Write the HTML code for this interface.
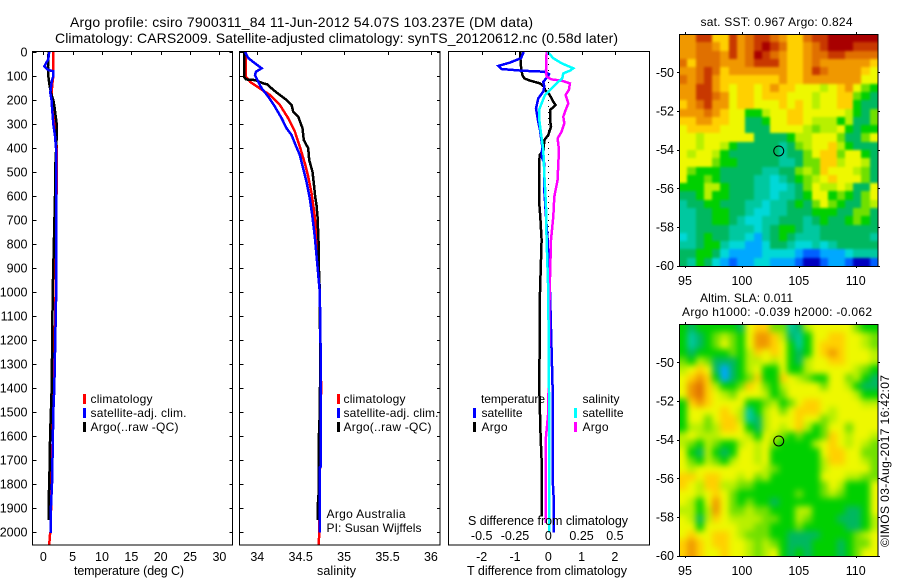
<!DOCTYPE html>
<html lang="en">
<head>
<meta charset="utf-8">
<title>Argo profile chart</title>
<style>
html,body{margin:0;padding:0;background:#fff;width:900px;height:580px;overflow:hidden}
svg{display:block}
text{font-family:"Liberation Sans",sans-serif;font-size:12.5px;fill:#000}
.ttl{font-size:14px}
.sm{font-size:12px}
</style>
</head>
<body>
<svg id="chart" xmlns="http://www.w3.org/2000/svg" width="900" height="580" viewBox="0 0 900 580">
  <defs>
    <filter id="soft-sst" filterUnits="userSpaceOnUse" x="650" y="0" width="250" height="300" color-interpolation-filters="sRGB"><feGaussianBlur stdDeviation="1.3"/></filter>
    <filter id="soft-sla" filterUnits="userSpaceOnUse" x="650" y="290" width="250" height="290" color-interpolation-filters="sRGB"><feGaussianBlur stdDeviation="3.2"/></filter>
    <clipPath id="clip-sst"><rect x="679" y="34" width="199" height="232"/></clipPath>
    <clipPath id="clip-sla"><rect x="679" y="324" width="199" height="232"/></clipPath>
  </defs>
  <rect x="0" y="0" width="900" height="580" fill="#fff"/>
  <text class="ttl" x="70" y="27" textLength="463">Argo profile: csiro 7900311_84 11-Jun-2012 54.07S 103.237E (DM data)</text>
  <text class="ttl" x="55" y="43" textLength="563">Climatology: CARS2009. Satellite-adjusted climatology: synTS_20120612.nc (0.58d later)</text>

  <g id="map-sst"></g>
  <g id="map-sla"></g>
  <g id="panel-temp"></g>
  <g id="panel-sal"></g>
  <g id="panel-diff"></g>

  <text x="74" y="575" textLength="110">temperature (deg C)</text>
  <text x="317" y="575" textLength="39">salinity</text>
  <text x="467" y="575" textLength="160">T difference from climatology</text>
  <text x="468" y="525" textLength="160">S difference from climatology</text>

  <g>
    <rect x="83" y="394" width="3" height="10" fill="#ff0000"/>
    <text class="sm" x="90.5" y="403" textLength="62">climatology</text>
    <rect x="83" y="408" width="3" height="10" fill="#0000ff"/>
    <text class="sm" x="90.5" y="417" textLength="96">satellite-adj. clim.</text>
    <rect x="83" y="422" width="3" height="10" fill="#000"/>
    <text class="sm" x="90.5" y="431" textLength="88">Argo(..raw -QC)</text>
  </g>
  <g>
    <rect x="337" y="394" width="3" height="10" fill="#ff0000"/>
    <text class="sm" x="343.5" y="403" textLength="62">climatology</text>
    <rect x="337" y="408" width="3" height="10" fill="#0000ff"/>
    <text class="sm" x="343.5" y="417" textLength="95">satellite-adj. clim.</text>
    <rect x="337" y="422" width="3" height="10" fill="#000"/>
    <text class="sm" x="343.5" y="431" textLength="88">Argo(..raw -QC)</text>
  </g>
  <g>
    <text class="sm" x="481" y="403" textLength="64">temperature</text>
    <rect x="473" y="408" width="3" height="10" fill="#0000ff"/>
    <text class="sm" x="481.5" y="417" textLength="41">satellite</text>
    <rect x="473" y="422" width="3" height="10" fill="#000"/>
    <text class="sm" x="481.5" y="431" textLength="26">Argo</text>
    <text class="sm" x="582.5" y="403" textLength="37">salinity</text>
    <rect x="574" y="408" width="3" height="10" fill="#00ffff"/>
    <text class="sm" x="582.5" y="417" textLength="41">satellite</text>
    <rect x="574" y="422" width="3" height="10" fill="#ff00ff"/>
    <text class="sm" x="582.5" y="431" textLength="26">Argo</text>
  </g>
  <text class="sm" x="326.5" y="518" textLength="79">Argo Australia</text>
  <text class="sm" x="326.5" y="532" textLength="95">PI: Susan Wijffels</text>

  <text class="sm" x="700.5" y="26" textLength="152">sat. SST: 0.967 Argo: 0.824</text>
  <text class="sm" x="700" y="302" textLength="93">Altim. SLA: 0.011</text>
  <text class="sm" x="682" y="316" textLength="190">Argo h1000: -0.039 h2000: -0.062</text>
  <text class="sm" transform="translate(889,547) rotate(-90)" x="0" y="0" textLength="172">©IMOS 03-Aug-2017 16:42:07</text>
</svg>
<script>
// ---- shared axis data ----
const depthTicks = [0,100,200,300,400,500,600,700,800,900,1000,1100,1200,1300,1400,1500,1600,1700,1800,1900,2000];
const tempTicks = [0,5,10,15,20,25,30];
const salTicks = [34,34.5,35,35.5,36];
const salTickLabels = ["34","34.5","35","35.5","36"];
const tDiffTicks = [-2,-1,0,1,2];
const sDiffTicks = [-0.5,-0.25,0,0.25,0.5];
const sDiffTickLabels = ["-0.5","-0.25","0","0.25","0.5"];
const lonTicks = [95,100,105,110];
const latTicks = [-50,-52,-54,-56,-58,-60];
const profileLon = [103.237];
const profileLat = [-54.07];

// ---- temperature profiles (deg C) ----
const tempClimDepth = [0,100,120,170,300,400,500,600,1000,1400,1800,2000,2005,2055];
const tempClimValue = [1.7,1.7,1.6,1.4,2.0,2.28,2.28,2.25,2.1,1.8,1.4,1.25,1.15,1.0];
const tempArgoDepth = [0,60,100,130,170,200,230,300,350,400,500,600,1000,1400,1500,1600,1800,1850,1950];
const tempArgoValue = [0.9,0.8,0.85,1.0,1.3,1.7,1.9,2.28,2.28,2.2,2.0,2.0,1.6,1.43,1.3,1.15,1.02,0.92,0.92];
const tempSatDepth = [0,30,60,75,80,100,120,150,170,200,250,300,350,400,500,600,1000,1400,1500,1650,1800,1900,2005];
const tempSatValue = [1.0,0.85,0.17,0.85,1.7,1.7,1.45,1.3,1.2,1.4,1.55,1.7,2.0,2.16,2.16,2.16,2.2,1.87,1.7,1.6,1.48,1.3,1.3];

// ---- salinity profiles ----
const salClimDepth = [0,103,124,152,179,221,276,332,394,464,519,589,686,783,1000,1400,1800,2000,2055];
const salClimValue = [33.866,33.87,33.916,34.03,34.146,34.26,34.356,34.433,34.49,34.548,34.586,34.625,34.663,34.682,34.72,34.735,34.72,34.712,34.71];
const salArgoDepth = [0,103,114,117,131,135,158,179,200,221,249,269,318,367,401,450,499,547,603,638,686,783,900,1000,1300,1500,1600,1850,1900,1950];
const salArgoValue = [33.847,33.847,33.87,33.973,34.069,34.115,34.184,34.26,34.337,34.395,34.414,34.471,34.521,34.536,34.586,34.598,34.636,34.651,34.667,34.682,34.693,34.705,34.71,34.72,34.725,34.72,34.71,34.705,34.693,34.693];
const salSatDepth = [0,26,47,68,82,96,124,151,186,228,276,318,346,381,429,485,540,610,679,769,1000,1300,1728,1730,2003];
const salSatValue = [33.858,33.897,33.973,34.05,33.985,33.973,34.011,34.05,34.126,34.203,34.28,34.337,34.395,34.433,34.49,34.529,34.567,34.605,34.632,34.663,34.72,34.732,34.732,34.72,34.72];

// ---- differences from climatology ----
const diffTArgoDepth = [0,61,96,110,119,131,144,158,175,193,207,221,242,283,311,346,367,408,429,506,617,686,783,1000,1400,1600,1700,1936];
const diffTArgoValue = [-0.85,-0.82,-0.78,-0.72,-0.55,-0.25,-0.13,-0.10,0.02,0.10,0.15,0.22,0.05,0.05,0.08,0,-0.12,-0.14,-0.26,-0.28,-0.28,-0.24,-0.20,-0.25,-0.27,-0.23,-0.2,-0.2];
const diffTSatDepth = [0,26,44,58,71,78,82,92,103,124,144,165,193,235,276,325,394,436,464,575,686,783,1000,1400,1776,1853,2003];
const diffTSatValue = [-0.74,-0.82,-1.15,-1.5,-1.4,-0.8,-0.12,0.02,-0.02,-0.15,-0.12,-0.15,-0.30,-0.37,-0.32,-0.25,-0.18,-0.2,-0.12,-0.12,-0.07,-0.02,0.05,0.13,0.13,0.16,0.17];
const diffSArgoDepth = [0,75,103,114,119,131,158,179,214,242,269,297,332,360,408,464,533,603,686,783,1000,1500,1603,1963];
const diffSArgoValue = [-0.0125,-0.0175,-0.0125,0.025,0.1,0.1625,0.155,0.13,0.15,0.13,0.1125,0.12,0.1,0.07,0.08,0.075,0.07,0.045,0.0375,0.02,0.01,0,-0.0175,-0.02];
const diffSSatDepth = [0,26,47,68,78,89,110,124,151,179,214,242,283,339,408,506,644,783,1000,1400,2003];
const diffSSatValue = [-0.005,0.0375,0.1,0.1875,0.1625,0.1125,0.105,0.075,0.025,-0.025,-0.05,-0.07,-0.0675,-0.055,-0.0375,-0.03,-0.0175,-0.0125,0,0.005,0.0075];

// ---- map colour levels (0 = coldest/lowest, 14 = warmest/highest) ----
const mapPalette = ["#0000c0","#0060ff","#00a8ff","#00d8d8","#00c8a0","#00b860","#00d000","#70e000","#b8f000","#eef800","#ffd000","#f09800","#e07000","#c83800","#a80000"];
const sstLevels = [
[11,11,13,13,10,10,13,11,12,13,13,12,11,10,10,12,13,13,14,14,14,14,14,14],
[11,11,12,12,11,10,13,11,12,13,14,13,12,10,10,11,12,13,14,14,14,13,13,13],
[11,11,12,12,12,11,13,11,12,14,13,12,11,10,10,11,12,12,13,13,12,12,12,12],
[12,10,12,12,12,11,11,11,12,13,13,13,11,10,10,11,12,11,11,11,11,11,11,10],
[11,11,12,13,12,10,11,11,11,11,11,11,11,10,10,11,13,12,11,11,11,11,10,9],
[12,11,12,13,11,10,10,10,10,10,10,10,11,10,10,11,11,11,11,11,11,11,9,9],
[11,11,13,13,11,10,9,10,10,9,10,11,10,10,9,9,9,8,9,10,11,9,7,6],
[11,11,13,13,12,11,9,10,10,9,10,10,10,9,9,9,8,9,9,10,10,7,6,5],
[10,11,12,13,11,11,9,10,10,9,9,9,10,9,10,9,8,9,9,10,10,6,5,5],
[11,11,11,12,11,10,9,9,6,6,8,9,9,10,10,9,9,9,9,9,8,6,5,7],
[10,10,11,11,10,10,9,9,5,5,6,9,9,10,10,9,8,8,8,6,8,5,5,7],
[9,10,10,10,10,9,9,9,5,5,5,9,9,9,9,8,7,8,8,9,6,5,6,6],
[9,9,8,9,9,9,9,9,9,5,5,5,5,6,8,8,9,9,9,7,5,5,7,9],
[9,9,8,9,9,8,6,5,5,5,5,5,4,5,7,8,9,9,10,8,6,5,5,5],
[9,8,9,9,8,6,5,5,5,5,5,5,4,5,5,7,9,10,10,7,9,9,6,5],
[9,9,9,9,7,6,6,5,5,5,5,5,4,4,5,7,7,10,10,8,9,9,8,5],
[9,7,6,6,6,5,5,5,5,5,4,4,5,5,7,8,7,10,9,9,9,8,7,5],
[9,6,6,7,6,5,5,5,5,4,4,3,4,5,6,7,8,9,10,9,9,9,7,5],
[6,6,6,8,8,6,5,5,5,4,4,3,3,4,5,7,9,8,8,9,8,5,5,9],
[5,5,6,8,6,6,5,5,5,4,4,3,4,4,5,6,9,9,6,7,6,5,7,9],
[4,5,5,6,6,5,5,5,4,4,3,4,4,5,6,5,7,9,7,6,5,5,7,8],
[4,4,5,5,6,6,5,5,4,3,3,4,4,5,5,5,6,6,6,5,5,7,7,5],
[4,4,5,5,6,6,5,4,3,3,4,4,5,5,5,4,5,6,5,5,6,7,6,5],
[4,4,5,5,5,5,4,4,4,3,4,5,6,6,5,4,4,5,5,5,5,5,5,5],
[3,4,5,6,5,5,4,4,3,2,4,5,6,5,4,4,4,5,5,5,5,5,5,4],
[4,4,5,6,6,4,3,3,2,2,3,5,5,4,3,3,4,3,4,5,5,5,5,5],
[5,5,6,6,5,3,2,2,2,2,3,3,3,3,2,1,1,2,2,2,3,4,4,4],
[5,4,6,5,3,2,1,2,2,3,3,2,2,2,1,0,0,1,2,2,1,0,0,1]
];
const slaLevels = [
[6,5,6,6,6,6,6,5,9,10,10,7,7,4,5,8,9,9,9,9,9,7,6,6],
[6,4,5,6,7,8,7,6,9,11,11,10,8,5,4,6,9,9,10,10,9,9,8,7],
[6,4,5,6,7,9,7,6,9,11,11,10,9,6,4,6,9,10,10,10,9,9,8,7],
[6,5,6,6,6,6,7,6,8,10,9,10,9,6,5,6,9,10,11,10,9,9,9,8],
[7,6,8,7,5,5,5,6,8,8,9,8,9,6,5,8,9,9,10,10,9,9,9,8],
[8,9,10,9,5,2,5,6,8,9,6,6,9,6,6,8,9,9,9,9,9,8,7,6],
[9,10,11,10,6,2,5,6,7,10,6,6,10,9,8,7,6,6,9,9,7,8,6,5],
[9,11,12,10,8,6,6,7,10,9,7,6,8,9,9,9,9,7,9,9,8,6,5,5],
[9,11,12,10,9,8,7,9,9,9,8,6,7,9,9,9,9,9,9,9,9,8,6,6],
[6,10,11,10,9,9,9,9,6,6,7,8,6,7,9,10,10,9,9,9,9,9,8,8],
[6,9,9,9,9,10,9,8,4,6,8,9,7,9,10,10,10,9,8,9,9,9,9,9],
[6,9,9,7,9,10,10,8,4,5,8,9,9,9,10,9,9,7,8,9,9,9,9,9],
[6,8,8,7,8,10,10,9,6,5,8,9,8,9,10,8,6,7,9,9,7,9,9,9],
[8,9,8,8,8,9,9,9,8,6,9,8,7,6,7,6,6,7,10,9,8,9,9,8],
[8,7,6,8,7,6,6,8,9,8,9,7,6,6,6,6,8,9,10,9,8,9,8,7],
[9,6,5,8,6,5,6,9,9,8,9,6,6,6,6,6,6,9,10,10,9,9,7,7],
[9,7,6,8,7,6,8,9,9,8,9,6,6,6,6,6,6,8,10,10,9,9,8,7],
[9,8,9,9,9,9,9,9,9,9,8,7,6,6,6,6,6,8,9,9,9,9,9,7],
[10,10,9,10,10,9,9,8,9,7,8,6,6,6,6,6,6,9,9,9,8,8,7,7],
[10,9,8,10,10,8,8,7,7,6,6,6,6,6,6,6,6,7,9,8,6,6,6,9],
[9,9,8,9,10,9,7,6,6,6,6,6,6,6,7,6,6,7,8,7,6,6,6,9],
[9,8,6,9,11,9,7,6,7,6,6,5,6,6,6,6,6,6,6,6,6,6,6,9],
[8,8,6,8,11,9,7,7,8,7,7,6,6,6,8,8,6,6,6,6,5,5,6,9],
[9,8,5,8,10,9,8,8,8,8,7,7,6,6,8,7,6,6,6,5,5,5,6,8],
[9,9,6,9,9,9,9,8,8,7,7,6,6,6,7,6,6,6,6,6,5,5,6,8],
[9,10,9,9,10,10,9,8,7,7,7,6,6,5,5,5,5,6,6,6,6,7,8,9],
[10,11,10,9,10,10,9,9,8,7,8,7,6,5,5,5,6,6,6,5,6,7,7,9],
[10,11,10,9,9,10,9,9,8,7,8,9,6,5,6,5,6,6,6,5,6,7,9,9]
];

// ---- axis functions ----
const NS = "http://www.w3.org/2000/svg";
function yDepth(d){ return 52 + 0.24*d; }
function xTemp(t){ return 43.3 + 5.87*t; }
function xSal(s){ return 257.3 + 86.8*(s-34); }
function xTDiff(t){ return 548.3 + 33.3*t; }
function xSDiff(s){ return 548.3 + 133.2*s; }
function xLon(lon){ return 685 + 11.38*(lon-95); }
function ySst(lat){ return 72.3 + 19.33*(-50-lat); }
function ySla(lat){ return 362.3 + 19.33*(-50-lat); }

function tick(parent,x1,y1,x2,y2){
  const el = document.createElementNS(NS,"line");
  
  
  el.setAttribute("x1",x1); el.setAttribute("y1",y1);
  el.setAttribute("x2",x2); el.setAttribute("y2",y2);
  el.setAttribute("stroke","#000");
  el.setAttribute("stroke-width","1");
  el.setAttribute("shape-rendering","crispEdges");
  parent.appendChild(el);
}
function label(parent,x,y,str,anchor){
  const el = document.createElementNS(NS,"text");
  
  
  el.setAttribute("x",x); el.setAttribute("y",y);
  el.setAttribute("text-anchor",anchor);
  el.textContent = str;
  parent.appendChild(el);
}
function series(parent,depths,values,xFn,color,width){
  const el = document.createElementNS(NS,"polyline");
  
  
  el.setAttribute("points",depths.map((d,i)=>xFn(values[i]).toFixed(1)+","+yDepth(d).toFixed(1)).join(" "));
  el.setAttribute("fill","none");
  el.setAttribute("stroke",color);
  el.setAttribute("stroke-width",width||2.5);
  el.setAttribute("shape-rendering","crispEdges");
  parent.appendChild(el);
}
function frame(parent,x,y,w,h){
  const el = document.createElementNS(NS,"rect");
  
  
  el.setAttribute("x",x); el.setAttribute("y",y);
  el.setAttribute("width",w); el.setAttribute("height",h);
  el.setAttribute("fill","none");
  el.setAttribute("stroke","#000");
  el.setAttribute("stroke-width","1");
  el.setAttribute("shape-rendering","crispEdges");
  parent.appendChild(el);
}
function depthAxis(parent,left,right,withLabels){
  depthTicks.forEach(d=>{
    const y = Math.round(yDepth(d))+0.5;
    tick(parent,left,y,left+4,y);
    tick(parent,right-3,y,right,y);
    if(withLabels) label(parent,27.5,yDepth(d)+4.5,String(d),"end");
  });
}

// ---- temperature panel ----
const pT = document.getElementById("panel-temp");
series(pT,tempClimDepth,tempClimValue,xTemp,"#ff0000");
series(pT,tempArgoDepth,tempArgoValue,xTemp,"#000000");
series(pT,tempSatDepth,tempSatValue,xTemp,"#0000ff");
frame(pT,32.5,51.5,200,493.5);
depthAxis(pT,32.5,232.5,true);
tempTicks.forEach(v=>{
  const x = Math.round(xTemp(v))+0.5;
  tick(pT,x,52,x,55);
  label(pT,xTemp(v),561,String(v),"middle");
});

// ---- salinity panel ----
const pS = document.getElementById("panel-sal");
series(pS,salClimDepth,salClimValue,xSal,"#ff0000");
series(pS,salArgoDepth,salArgoValue,xSal,"#000000");
series(pS,salSatDepth,salSatValue,xSal,"#0000ff");
frame(pS,239.5,51.5,200.5,493.5);
depthAxis(pS,239.5,440,false);
salTicks.forEach((v,i)=>{
  const x = Math.round(xSal(v))+0.5;
  tick(pS,x,52,x,55);
  label(pS,xSal(v),561,salTickLabels[i],"middle");
});

// ---- difference panel ----
const pD = document.getElementById("panel-diff");
const zero = document.createElementNS(NS,"line");


zero.setAttribute("x1",xTDiff(0)); zero.setAttribute("x2",xTDiff(0));
zero.setAttribute("y1",yDepth(0)); zero.setAttribute("y2",yDepth(2000));
zero.setAttribute("stroke","#000");
zero.setAttribute("stroke-width","1");
zero.setAttribute("stroke-dasharray","1 5");
zero.setAttribute("shape-rendering","crispEdges");
pD.appendChild(zero);
series(pD,diffTArgoDepth,diffTArgoValue,xTDiff,"#000000");
series(pD,diffTSatDepth,diffTSatValue,xTDiff,"#0000ff");
series(pD,diffSArgoDepth,diffSArgoValue,xSDiff,"#ff00ff");
series(pD,diffSSatDepth,diffSSatValue,xSDiff,"#00ffff");
frame(pD,448.5,51.5,201,493.5);
tDiffTicks.forEach(v=>{
  const x = Math.round(xTDiff(v))+0.5;
  tick(pD,x,52,x,55);
  label(pD,xTDiff(v),561,String(v),"middle");
});
sDiffTicks.forEach((v,i)=>{
  label(pD,xSDiff(v),540,sDiffTickLabels[i],"middle");
});

// ---- maps ----
function drawMap(groupId,levels,yFn,frameTop,frameBottom,lonLabelY,clipId,filterId){
  const g = document.getElementById(groupId);
  const left = 679, right = 878;
  const rows = levels.length, cols = levels[0].length;
  const clipGroup = document.createElementNS(NS,"g");
  
  
  clipGroup.setAttribute("clip-path","url(#"+clipId+")");
  const cellGroup = document.createElementNS(NS,"g");
  
  
  cellGroup.setAttribute("filter","url(#"+filterId+")");
  levels.forEach((row,r)=>{
    row.forEach((lvl,c)=>{
      // edge cells bleed past the frame so the soft shading reaches the clip edge
      const x0 = c===0 ? left-14 : Math.round(left + (right-left)*c/cols);
      const x1 = c===cols-1 ? right+14 : Math.round(left + (right-left)*(c+1)/cols);
      const y0 = r===0 ? frameTop-14 : Math.round(frameTop + (frameBottom-frameTop)*r/rows);
      const y1 = r===rows-1 ? frameBottom+14 : Math.round(frameTop + (frameBottom-frameTop)*(r+1)/rows);
      const cell = document.createElementNS(NS,"rect");
      
      
      cell.setAttribute("x",x0); cell.setAttribute("y",y0);
      cell.setAttribute("width",x1-x0); cell.setAttribute("height",y1-y0);
      cell.setAttribute("fill",mapPalette[lvl]);
      cell.setAttribute("shape-rendering","crispEdges");
      cellGroup.appendChild(cell);
    });
  });
  clipGroup.appendChild(cellGroup);
  g.appendChild(clipGroup);
  frame(g,left+0.5,frameTop+0.5,right-left-0.5,frameBottom-frameTop);
  lonTicks.forEach(v=>{
    const x = Math.round(xLon(v))+0.5;
    tick(g,x,frameTop-2,x,frameTop);
    tick(g,x,frameBottom,x,frameBottom+2);
    label(g,xLon(v),lonLabelY,String(v),"middle");
  });
  latTicks.forEach(v=>{
    const y = Math.round(yFn(v))+0.5;
    tick(g,left-2,y,left,y);
    tick(g,right,y,right+2,y);
    label(g,674,yFn(v)+4.5,String(v),"end");
  });
  const mark = document.createElementNS(NS,"circle");
  
  
  mark.setAttribute("cx",xLon(profileLon[0]));
  mark.setAttribute("cy",yFn(profileLat[0]));
  mark.setAttribute("r",5);
  mark.setAttribute("fill","none");
  mark.setAttribute("stroke","#000");
  mark.setAttribute("stroke-width","1");
  g.appendChild(mark);
}
drawMap("map-sst",sstLevels,ySst,34,266,285,"clip-sst","soft-sst");
drawMap("map-sla",slaLevels,ySla,324,556,575,"clip-sla","soft-sla");
</script>
</body>
</html>
